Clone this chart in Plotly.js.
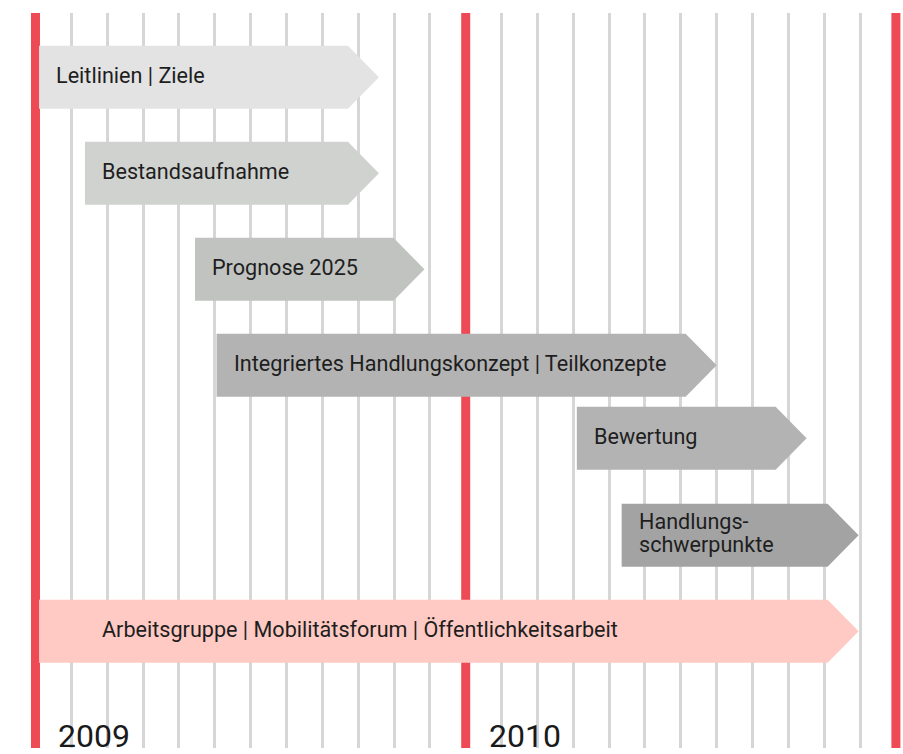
<!DOCTYPE html>
<html>
<head>
<meta charset="utf-8">
<script src="https://cdn.plot.ly/plotly-3.0.1.min.js"></script>
<style>html,body{margin:0;padding:0;background:#fff;}#chart{width:903px;height:754px;}</style>
</head>
<body>
<div id="chart"></div>
<script>
// ---- data (months counted from January 2009) ----
var tasks = ["Leitlinien | Ziele", "Bestandsaufnahme", "Prognose 2025",
  "Integriertes Handlungskonzept | Teilkonzepte", "Bewertung",
  "Handlungs-<br>schwerpunkte", "Arbeitsgruppe | Mobilitätsforum | Öffentlichkeitsarbeit"];
var startMonth = [0.1, 1.38, 4.45, 5.05, 15.1, 16.35, 0.1];
var endMonth   = [9.58, 9.58, 10.85, 19.0, 21.51, 22.96, 22.96];
var rowPos     = [1, 2, 3, 4, 4.76, 5.77, 6.77];
var barColors  = ["#e3e3e3", "#d0d2d0", "#c1c3c1", "#b3b3b3", "#b3b3b3", "#a3a3a3", "#fecac3"];
var yearStarts = [0, 12, 24];
var yearLabels = ["2009", "2010"];
var monthLines = [1,2,3,4,5,6,7,8,9,10,11,13,14,15,16,17,18,19,20,21,22,23];

// ---- geometry ----
var H = 0.656;      // bar height (row units)
var TIP = 0.865;    // arrow depth (months)
var labelShift = [15, 15, 15, 15, 15, 15, 61];

var traces = [];
var annotations = [];
for (var i = 0; i < tasks.length; i++) {
  var s = startMonth[i], e = endMonth[i], r = rowPos[i];
  traces.push({
    type: "scatter", mode: "lines", fill: "toself",
    x: [s, e - TIP, e, e - TIP, s, s],
    y: [r - H/2, r - H/2, r, r + H/2, r + H/2, r - H/2],
    fillcolor: barColors[i], line: {width: 0, color: barColors[i]},
    hoverinfo: "skip", showlegend: false
  });
  var lines = tasks[i].split("<br>");
  for (var k = 0; k < lines.length; k++) {
    annotations.push({
      x: s, y: r, xref: "x", yref: "y", xanchor: "left", yanchor: "middle",
      xshift: labelShift[i], yshift: 2 + (lines.length - 1) * 11.5 - k * 23,
      text: lines[k], showarrow: false,
      font: {family: "Roboto, 'Liberation Sans', sans-serif", size: 21.6, color: "#1e1e1e"}
    });
  }
}
for (var j = 0; j < yearLabels.length; j++) {
  annotations.push({
    x: yearStarts[j], y: 0, xref: "x", yref: "paper", xanchor: "left", yanchor: "bottom",
    xshift: 21, yshift: -9, text: yearLabels[j], showarrow: false,
    font: {family: "Roboto, 'Liberation Sans', sans-serif", size: 32, color: "#1a1a1a"}
  });
}
var shapes = yearStarts.map(function (m) {
  return {type: "line", xref: "x", yref: "paper", x0: m, x1: m, y0: 0, y1: 1,
    line: {color: "#ee4a56", width: 9}, layer: "between"};
});

var layout = {
  width: 903, height: 754,
  margin: {l: 0, r: 0, t: 13, b: 6, pad: 0},
  paper_bgcolor: "#ffffff", plot_bgcolor: "#ffffff",
  showlegend: false,
  xaxis: {range: [-0.990, 24.198], tickmode: "array", tickvals: monthLines,
    showticklabels: false, ticks: "", showgrid: true, gridcolor: "#d6d6d6", gridwidth: 3,
    zeroline: false, showline: false, fixedrange: true},
  yaxis: {range: [7.986, 0.33], showgrid: false, zeroline: false, showticklabels: false,
    ticks: "", showline: false, fixedrange: true},
  shapes: shapes,
  annotations: annotations
};
Plotly.newPlot("chart", traces, layout, {displayModeBar: false, staticPlot: true});
</script>
</body>
</html>
